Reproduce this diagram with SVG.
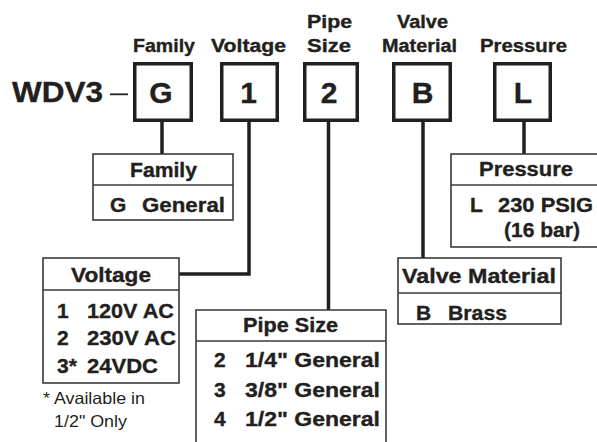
<svg xmlns="http://www.w3.org/2000/svg" width="597" height="442" viewBox="0 0 597 442">
<style>
text{font-family:"Liberation Sans",Arial,sans-serif;font-weight:bold;fill:#231f20;stroke:#231f20;stroke-width:0.35}
.lbl{font-size:18px;text-anchor:middle}
.code{font-size:30px;text-anchor:middle}
.th{font-size:20px}
.tr{font-size:21px}
.note{font-size:16.5px;font-weight:normal;stroke:none}
.box{fill:#fff;stroke:#231f20;stroke-width:3.5}
.tbl{fill:#fff;stroke:#3a3a3a;stroke-width:1.6}
.div{stroke:#3a3a3a;stroke-width:1.6}
.conn{stroke:#231f20;stroke-width:3.5;fill:none}
</style>
<rect width="597" height="442" fill="#fff"/>

<g id="part-number">
<text x="12" y="102" font-size="30" textLength="91" lengthAdjust="spacingAndGlyphs">WDV3</text>
<line x1="110" y1="94.3" x2="128" y2="94.3" stroke="#231f20" stroke-width="1.8"/>
</g>

<g id="connectors">
<line class="conn" x1="162" y1="121" x2="162" y2="154"/>
<polyline class="conn" points="249,121 249,274 179,274" stroke-width="3"/>
<line class="conn" x1="328.5" y1="121" x2="328.5" y2="310"/>
<line class="conn" x1="423" y1="121" x2="423" y2="258"/>
<line class="conn" x1="524" y1="121" x2="524" y2="154"/>
</g>

<g id="code-family">
<text class="lbl" x="164" y="52" textLength="62" lengthAdjust="spacingAndGlyphs">Family</text>
<rect class="box" x="134.75" y="63.75" width="56.5" height="56.5"/>
<text class="code" x="161" y="103">G</text>
</g>
<g id="code-voltage">
<text class="lbl" x="248.5" y="52" textLength="75" lengthAdjust="spacingAndGlyphs">Voltage</text>
<rect class="box" x="221.75" y="63.75" width="55.5" height="56.5"/>
<text class="code" x="248.5" y="103">1</text>
</g>
<g id="code-pipe">
<text class="lbl" x="329.5" y="28" textLength="45" lengthAdjust="spacingAndGlyphs">Pipe</text>
<text class="lbl" x="329" y="52" textLength="44" lengthAdjust="spacingAndGlyphs">Size</text>
<rect class="box" x="304.75" y="63.75" width="52.5" height="56.5"/>
<text class="code" x="329" y="103">2</text>
</g>
<g id="code-valve">
<text class="lbl" x="422.5" y="28" textLength="51" lengthAdjust="spacingAndGlyphs">Valve</text>
<text class="lbl" x="419.5" y="52" textLength="75" lengthAdjust="spacingAndGlyphs">Material</text>
<rect class="box" x="393.75" y="63.75" width="56.5" height="56.5"/>
<text class="code" x="422.5" y="103">B</text>
</g>
<g id="code-pressure">
<text class="lbl" x="523.5" y="52" textLength="87" lengthAdjust="spacingAndGlyphs">Pressure</text>
<rect class="box" x="494.75" y="63.75" width="55.5" height="56.5"/>
<text class="code" x="523" y="103">L</text>
</g>

<g id="table-family">
<rect class="tbl" x="93" y="154" width="140" height="66"/>
<line class="div" x1="93" y1="185" x2="233" y2="185"/>
<text class="th" x="130" y="177" textLength="67" lengthAdjust="spacingAndGlyphs">Family</text>
<text class="tr" x="110" y="212">G</text>
<text class="tr" x="142" y="212" textLength="83" lengthAdjust="spacingAndGlyphs">General</text>
</g>

<g id="table-voltage">
<rect class="tbl" x="43" y="258" width="136" height="125"/>
<line class="div" x1="43" y1="290" x2="179" y2="290"/>
<text class="th" x="71" y="282" textLength="80" lengthAdjust="spacingAndGlyphs">Voltage</text>
<text class="tr" x="57" y="318">1</text>
<text class="tr" x="87" y="318" textLength="87" lengthAdjust="spacingAndGlyphs">120V AC</text>
<text class="tr" x="57" y="345">2</text>
<text class="tr" x="87" y="345" textLength="89" lengthAdjust="spacingAndGlyphs">230V AC</text>
<text class="tr" x="57" y="373">3*</text>
<text class="tr" x="87" y="373" textLength="71" lengthAdjust="spacingAndGlyphs">24VDC</text>
<text class="note" x="43" y="404" textLength="102" lengthAdjust="spacingAndGlyphs">* Available in</text>
<text class="note" x="54" y="427" textLength="73" lengthAdjust="spacingAndGlyphs">1/2" Only</text>
</g>

<g id="table-pipe">
<path class="tbl" d="M196,443 V310 H386 V443" fill="#fff"/>
<line class="div" x1="196" y1="341" x2="386" y2="341"/>
<text class="th" x="243" y="332" textLength="95" lengthAdjust="spacingAndGlyphs">Pipe Size</text>
<text class="tr" x="214" y="367">2</text>
<text class="tr" x="245" y="367" textLength="135" lengthAdjust="spacingAndGlyphs">1/4" General</text>
<text class="tr" x="214" y="397">3</text>
<text class="tr" x="245" y="397" textLength="135" lengthAdjust="spacingAndGlyphs">3/8" General</text>
<text class="tr" x="214" y="426">4</text>
<text class="tr" x="245" y="426" textLength="135" lengthAdjust="spacingAndGlyphs">1/2" General</text>
</g>

<g id="table-valve">
<rect class="tbl" x="398" y="258" width="163" height="66"/>
<line class="div" x1="398" y1="293" x2="561" y2="293"/>
<text class="th" x="402" y="283" textLength="154" lengthAdjust="spacingAndGlyphs">Valve Material</text>
<text class="tr" x="416" y="320">B</text>
<text class="tr" x="448" y="320" textLength="59" lengthAdjust="spacingAndGlyphs">Brass</text>
</g>

<g id="table-pressure">
<rect class="tbl" x="451" y="154" width="160" height="93"/>
<line class="div" x1="451" y1="185" x2="611" y2="185"/>
<text class="th" x="479" y="176" textLength="94" lengthAdjust="spacingAndGlyphs">Pressure</text>
<text class="tr" x="470" y="212">L</text>
<text class="tr" x="498" y="212" textLength="95" lengthAdjust="spacingAndGlyphs">230 PSIG</text>
<text class="tr" x="504" y="237" textLength="76" lengthAdjust="spacingAndGlyphs">(16 bar)</text>
</g>
</svg>
